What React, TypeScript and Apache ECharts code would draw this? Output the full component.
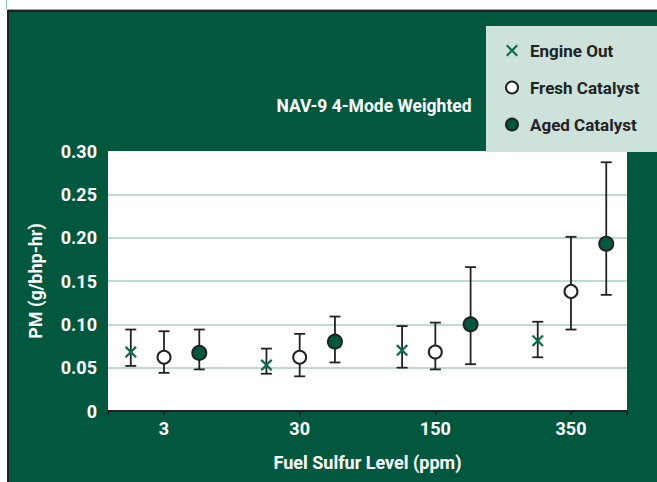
import React, { useEffect, useRef } from "react";
import * as echarts from "echarts";

const categories = ["3", "30", "150", "350"];
const seriesNames = ["Engine Out", "Fresh Catalyst", "Aged Catalyst"];

const engineOut = [0.068, 0.053, 0.070, 0.081];
const engineOutLow = [0.052, 0.043, 0.050, 0.062];
const engineOutHigh = [0.094, 0.072, 0.098, 0.103];

const fresh = [0.062, 0.062, 0.068, 0.138];
const freshLow = [0.044, 0.040, 0.048, 0.094];
const freshHigh = [0.092, 0.089, 0.102, 0.201];

const aged = [0.067, 0.080, 0.100, 0.193];
const agedLow = [0.048, 0.056, 0.054, 0.134];
const agedHigh = [0.094, 0.109, 0.166, 0.287];

const yTicks = [0, 0.05, 0.1, 0.15, 0.2, 0.25, 0.3];

const GREEN = "#02583f";
const CROSS_GREEN = "#0d6a4b";
const DARK = "#222222";
const FONT = "Roboto, 'Liberation Sans', sans-serif";
const OFFSETS = [-0.245, 0, 0.26];
const X_MIN = 0.587;
const X_MAX = 4.413;

const CROSS_PATH =
  "path://M1.3,0 L5,3.7 L8.7,0 L10,1.3 L6.3,5 L10,8.7 L8.7,10 L5,6.3 L1.3,10 L0,8.7 L3.7,5 L0,1.3 Z";

function points(vals: number[], k: number) {
  return vals.map((v, i) => [i + 1 + OFFSETS[k], v]);
}
function bars(lo: number[], hi: number[], k: number) {
  return lo.map((l, i) => [i + 1 + OFFSETS[k], l, hi[i]]);
}

const renderErr = (params: any, api: any) => {
  const x = api.value(0);
  const top = api.coord([x, api.value(2)]);
  const bot = api.coord([x, api.value(1)]);
  const half = 5.5;
  const style = { stroke: DARK, lineWidth: 1.8 };
  return {
    type: "group",
    children: [
      { type: "line", shape: { x1: top[0], y1: top[1], x2: bot[0], y2: bot[1] }, style },
      { type: "line", shape: { x1: top[0] - half, y1: top[1], x2: top[0] + half, y2: top[1] }, style },
      { type: "line", shape: { x1: bot[0] - half, y1: bot[1], x2: bot[0] + half, y2: bot[1] }, style },
    ],
  };
};

export default function App() {
  const ref = useRef<HTMLDivElement>(null);
  useEffect(() => {
    if (!ref.current) return;
    const chart = echarts.init(ref.current, undefined, { renderer: "svg" });
    const lowHigh = [
      [engineOutLow, engineOutHigh],
      [freshLow, freshHigh],
      [agedLow, agedHigh],
    ];
    const errSeries = lowHigh.map((lh, k) => ({
      type: "custom",
      name: "err" + k,
      renderItem: renderErr,
      data: bars(lh[0], lh[1], k),
      z: 2,
      silent: true,
      encode: { x: 0, y: [1, 2] },
    }));
    chart.setOption({
      animation: false,
      textStyle: { fontFamily: FONT, fontWeight: "bold" },
      title: {
        text: "NAV-9 4-Mode Weighted",
        left: 369,
        top: 92,
        textAlign: "center",
        textStyle: { color: "#fff", fontSize: 17.5, fontWeight: "bold", fontFamily: FONT },
      },
      graphic: [
        {
          type: "rect",
          shape: { x: 486, y: 26, width: 171, height: 126 },
          style: { fill: "#cde2db" },
          silent: true,
        },
      ],
      legend: {
        data: seriesNames,
        orient: "vertical",
        left: 505,
        top: 42,
        itemWidth: 26,
        itemHeight: 12,
        itemGap: 20,
        padding: 0,
        textStyle: { color: DARK, fontSize: 17, fontWeight: "bold", fontFamily: FONT },
      },
      grid: {
        left: 108,
        right: 30,
        top: 151,
        bottom: 71,
        show: true,
        backgroundColor: "#fff",
        borderWidth: 0,
      },
      xAxis: {
        type: "value",
        min: X_MIN,
        max: X_MAX,
        axisLine: { lineStyle: { color: DARK, width: 2 } },
        axisTick: {
          customValues: [X_MIN, 1, 2, 3, 4, X_MAX],
          length: 4,
          lineStyle: { color: DARK, width: 2 },
        },
        axisLabel: {
          customValues: [1, 2, 3, 4],
          formatter: (v: number) => categories[Math.round(v) - 1] ?? "",
          color: "#fff",
          fontSize: 18,
          fontWeight: "bold",
          fontFamily: FONT,
          margin: 8,
        },
        splitLine: { show: false },
        name: "Fuel Sulfur Level (ppm)",
        nameLocation: "middle",
        nameGap: 42,
        nameTextStyle: { color: "#fff", fontSize: 18, fontWeight: "bold", fontFamily: FONT },
      },
      yAxis: {
        type: "value",
        min: yTicks[0],
        max: yTicks[yTicks.length - 1],
        interval: 0.05,
        axisLine: { show: false },
        axisTick: { show: false },
        axisLabel: {
          formatter: (v: number) => (v === 0 ? "0" : v.toFixed(2)),
          color: "#fff",
          fontSize: 18,
          fontWeight: "bold",
          fontFamily: FONT,
          margin: 11,
        },
        splitLine: {
          show: true,
          showMinLine: false,
          showMaxLine: false,
          lineStyle: { color: "#a9cfc3", width: 1.5 },
        },
        name: "PM (g/bhp-hr)",
        nameLocation: "middle",
        nameGap: 64,
        nameRotate: 90,
        nameTextStyle: { color: "#fff", fontSize: 18, fontWeight: "bold", fontFamily: FONT },
      },
      series: [
        ...errSeries,
        {
          type: "scatter",
          name: seriesNames[0],
          symbol: CROSS_PATH,
          symbolSize: 12,
          itemStyle: { color: CROSS_GREEN, opacity: 1 },
          data: points(engineOut, 0),
          z: 5,
        },
        {
          type: "scatter",
          name: seriesNames[1],
          symbol: "circle",
          symbolSize: 13,
          itemStyle: { color: "#fff", borderColor: DARK, borderWidth: 2, opacity: 1 },
          data: points(fresh, 1),
          z: 5,
        },
        {
          type: "scatter",
          name: seriesNames[2],
          symbol: "circle",
          symbolSize: 14,
          itemStyle: { color: GREEN, borderColor: DARK, borderWidth: 2, opacity: 1 },
          data: points(aged, 2),
          z: 5,
        },
      ],
    });
    return () => chart.dispose();
  }, []);

  return (
    <div style={{ position: "absolute", left: 0, top: 0, width: 657, height: 482, background: "#fff", overflow: "hidden" }}>
      <div style={{ position: "absolute", left: 6, top: 0, width: 1, height: 10, background: "#8fc1b0" }} />
      <div style={{ position: "absolute", left: 8, top: 9, width: 649, height: 1, background: "#a0a0a0" }} />
      <div
        style={{
          position: "absolute",
          left: 7,
          top: 10,
          width: 650,
          height: 472,
          background: GREEN,
          borderTop: "2px solid #222",
          borderLeft: "2px solid #222",
          boxSizing: "border-box",
        }}
      />
      <div ref={ref} style={{ position: "absolute", left: 0, top: 0, width: 657, height: 482 }} />
    </div>
  );
}
